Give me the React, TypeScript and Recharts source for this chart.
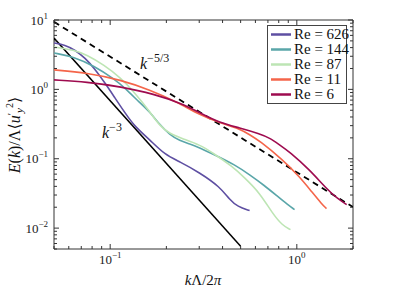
import React from 'react';
import { LineChart, Line, XAxis, YAxis, ReferenceArea } from 'recharts';

const W = 403;
const H = 295;
const MARGIN = { top: 20, right: 50, left: 0, bottom: 0 };
const PLOT_TOP = MARGIN.top;
const PLOT_RIGHT = W - MARGIN.right;
const FONT = 'Liberation Serif, DejaVu Serif, serif';
const AXIS = '#333';

// tick values
const xTicks = [0.05, 0.06, 0.07, 0.08, 0.09, 0.1, 0.2, 0.3, 0.4, 0.5, 0.6, 0.7, 0.8, 0.9, 1, 2];
const xMajor = [0.1, 1];
const yTicks = [
  0.005, 0.006, 0.007, 0.008, 0.009, 0.01, 0.02, 0.03, 0.04, 0.05, 0.06, 0.07, 0.08, 0.09,
  0.1, 0.2, 0.3, 0.4, 0.5, 0.6, 0.7, 0.8, 0.9, 1, 2, 3, 4, 5, 6, 7, 8, 9, 10,
];
const yMajor = [0.01, 0.1, 1, 10];

// spectra
const re626K = [0.05, 0.0573, 0.0648, 0.0733, 0.0828, 0.0937, 0.106, 0.12, 0.1356, 0.1631, 0.1963, 0.236, 0.302, 0.386, 0.437, 0.482, 0.5585];
const re626E = [4.67, 4.36, 3.7, 2.84, 1.97, 1.24, 0.755, 0.459, 0.289, 0.188, 0.114, 0.0906, 0.0629, 0.0396, 0.0257, 0.0204, 0.0179];

const re144K = [0.05, 0.064, 0.0818, 0.1047, 0.1199, 0.1442, 0.1631, 0.1845, 0.2085, 0.236, 0.2668, 0.3018, 0.3722, 0.4645, 0.5585, 0.6719, 0.7795, 0.8919, 0.9724];
const re144E = [3.35, 2.94, 2.18, 1.42, 1.05, 0.64, 0.474, 0.308, 0.222, 0.181, 0.164, 0.144, 0.11, 0.082, 0.0589, 0.0409, 0.0294, 0.0218, 0.0185];

const re87K = [0.05, 0.064, 0.075, 0.0925, 0.1141, 0.1339, 0.1478, 0.1631, 0.1845, 0.2085, 0.2449, 0.3018, 0.354, 0.4531, 0.525, 0.6318, 0.7413, 0.8389, 0.925];
const re87E = [4.09, 3.7, 3.13, 2.25, 1.46, 0.921, 0.661, 0.474, 0.298, 0.229, 0.194, 0.159, 0.122, 0.0767, 0.0533, 0.0324, 0.0162, 0.0109, 0.0095];

const re11K = [0.05, 0.075, 0.1141, 0.1631, 0.2274, 0.3018, 0.3863, 0.494, 0.5585, 0.6318, 0.8389, 1.034, 1.213, 1.356, 1.442];
const re11E = [1.91, 1.73, 1.37, 0.984, 0.661, 0.43, 0.33, 0.27, 0.222, 0.181, 0.0968, 0.0551, 0.0324, 0.0225, 0.0191];

const re6K = [0.05, 0.075, 0.1141, 0.1713, 0.2449, 0.3018, 0.3863, 0.494, 0.6318, 0.7147, 0.8075, 0.9139, 1.17, 1.442, 1.651, 1.85];
const re6E = [1.37, 1.28, 1.09, 0.861, 0.618, 0.459, 0.33, 0.279, 0.229, 0.2, 0.159, 0.126, 0.0695, 0.037, 0.0266, 0.0218];

// reference power laws
const k53K = [0.05, 2];
const k53E = [9.4, 0.0201];
const k3K = [0.05, 0.5];
const k3E = [5.5, 0.0055];

const series = [
  { name: 'Re = 626', k: re626K, e: re626E, color: '#5e4fa2' },
  { name: 'Re = 144', k: re144K, e: re144E, color: '#5aa6a9' },
  { name: 'Re = 87', k: re87K, e: re87E, color: '#bde5b4' },
  { name: 'Re = 11', k: re11K, e: re11E, color: '#f4654a' },
  { name: 'Re = 6', k: re6K, e: re6E, color: '#9e0b4f' },
];

const toPoints = (k: number[], e: number[]) => k.map((kk, i) => ({ k: kk, E: e[i] }));

const expLabel = (v: number) => {
  const p = Math.round(Math.log10(v));
  return p < 0 ? `\u2212${-p}` : `${p}`;
};

const XTick = (props: any) => {
  const { x, y, payload } = props;
  const v = payload.value;
  const major = xMajor.includes(v);
  const len = major ? 5 : 3;
  return (
    <g>
      <line x1={x} x2={x} y1={y} y2={y - len} stroke={AXIS} />
      <line x1={x} x2={x} y1={PLOT_TOP} y2={PLOT_TOP + len} stroke={AXIS} />
      {major && (
        <text x={x} y={y + 15} textAnchor="middle" fontFamily={FONT} fontSize={13} fill="#222">
          10<tspan dy={-6} fontSize={9}>{expLabel(v)}</tspan>
        </text>
      )}
    </g>
  );
};

const YTick = (props: any) => {
  const { x, y, payload } = props;
  const v = payload.value;
  const major = yMajor.includes(v);
  const len = major ? 5 : 3;
  return (
    <g>
      <line x1={x} x2={x + len} y1={y} y2={y} stroke={AXIS} />
      <line x1={PLOT_RIGHT} x2={PLOT_RIGHT - len} y1={y} y2={y} stroke={AXIS} />
      {major && (
        <text x={x - 6} y={y + 4.5} textAnchor="end" fontFamily={FONT} fontSize={13} fill="#222">
          10<tspan dy={-6} fontSize={9}>{expLabel(v)}</tspan>
        </text>
      )}
    </g>
  );
};

export default function App() {
  return (
    <div style={{ position: 'absolute', left: 0, top: 0, width: W, height: H, background: '#fff' }}>
      <LineChart width={W} height={H} margin={MARGIN}>
        <XAxis
          dataKey="k"
          type="number"
          scale="log"
          domain={[0.05, 2]}
          allowDataOverflow
          ticks={xTicks}
          interval={0}
          tick={XTick}
          tickLine={false}
          axisLine={false}
          tickSize={0}
          tickMargin={0}
          height={46}
        />
        <YAxis
          dataKey="E"
          type="number"
          scale="log"
          domain={[0.005, 10]}
          allowDataOverflow
          ticks={yTicks}
          interval={0}
          tick={YTick}
          tickLine={false}
          axisLine={false}
          tickSize={0}
          tickMargin={0}
          width={54}
        />
        <ReferenceArea x1={0.05} x2={2} y1={0.005} y2={10} fill="none" stroke={AXIS} strokeWidth={1} />
        <Line
          data={toPoints(k53K, k53E)}
          dataKey="E"
          stroke="#000"
          strokeWidth={1.8}
          strokeDasharray="6 4.5"
          dot={false}
          legendType="none"
          isAnimationActive={false}
        />
        <Line
          data={toPoints(k3K, k3E)}
          dataKey="E"
          stroke="#000"
          strokeWidth={1.5}
          dot={false}
          legendType="none"
          isAnimationActive={false}
        />
        {series.map((s) => (
          <Line
            key={s.name}
            name={s.name}
            data={toPoints(s.k, s.e)}
            dataKey="E"
            type="basis"
            stroke={s.color}
            strokeWidth={1.6}
            dot={false}
            isAnimationActive={false}
          />
        ))}
      </LineChart>

      {/* annotations and axis titles */}
      <svg width={W} height={H} style={{ position: 'absolute', left: 0, top: 0, pointerEvents: 'none' }}>
        <text x={140} y={69} fontFamily={FONT} fontSize={16} fill="#111">
          <tspan fontStyle="italic">k</tspan>
          <tspan dy={-7} fontSize={12}>{'\u22125/3'}</tspan>
        </text>
        <text x={102} y={138} fontFamily={FONT} fontSize={16} fill="#111">
          <tspan fontStyle="italic">k</tspan>
          <tspan dy={-7} fontSize={12}>{'\u22123'}</tspan>
        </text>
        <text x={203} y={285} textAnchor="middle" fontFamily={FONT} fontSize={15} fill="#111">
          <tspan fontStyle="italic">k</tspan>Λ/2<tspan fontStyle="italic">π</tspan>
        </text>
        <text transform="translate(20,135) rotate(-90)" textAnchor="middle" fontFamily={FONT} fontSize={16} fill="#111">
          <tspan fontStyle="italic">E</tspan>(<tspan fontStyle="italic">k</tspan>)/Λ⟨<tspan fontStyle="italic">u</tspan>
          <tspan dy={-5} fontSize={11}>′</tspan>
          <tspan dy={8} fontSize={11} fontStyle="italic">y</tspan>
          <tspan dy={-10} fontSize={10}>2</tspan>
          <tspan dy={7}>⟩</tspan>
        </text>
      </svg>

      {/* legend */}
      <div
        style={{
          position: 'absolute',
          left: 267,
          top: 25,
          width: 80,
          height: 79,
          border: '1px solid #444',
          background: '#fff',
          boxSizing: 'border-box',
          paddingTop: 1,
          fontFamily: FONT,
          fontSize: 15,
          lineHeight: '15px',
          color: '#111',
        }}
      >
        {series.map((s) => (
          <div key={s.name} style={{ display: 'flex', alignItems: 'center', height: 15, whiteSpace: 'nowrap' }}>
            <svg width={26} height={15} style={{ flexShrink: 0 }}>
              <line x1={3} x2={23} y1={7.5} y2={7.5} stroke={s.color} strokeWidth={2.5} />
            </svg>
            <span>{s.name}</span>
          </div>
        ))}
      </div>
    </div>
  );
}
